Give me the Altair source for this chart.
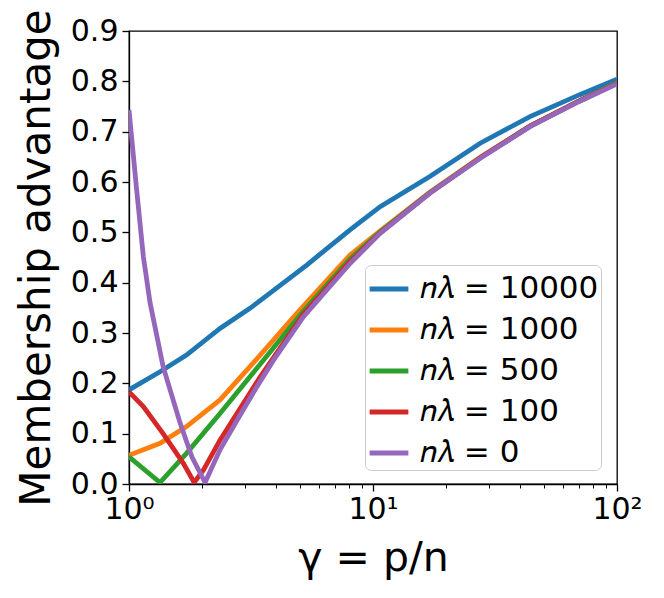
import altair as alt
import pandas as pd

series_labels = ["𝑛𝜆 = 10000", "𝑛𝜆 = 1000", "𝑛𝜆 = 500", "𝑛𝜆 = 100", "𝑛𝜆 = 0"]
series_colors = ["#1f77b4", "#ff7f0e", "#2ca02c", "#d62728", "#9467bd"]

gamma_10000 = [1.0, 1.34, 1.72, 2.36, 3.13, 4.0, 5.35, 8.05, 10.7, 17.1, 27.5, 44.0, 70.0, 100.0]
adv_10000 = [0.187, 0.223, 0.256, 0.309, 0.349, 0.388, 0.435, 0.505, 0.551, 0.611, 0.677, 0.730, 0.773, 0.804]

gamma_1000 = [1.0, 1.34, 1.72, 2.36, 3.13, 5.02, 8.05, 10.7, 17.1, 27.5, 44.0, 70.0, 100.0]
adv_1000 = [0.057, 0.081, 0.114, 0.167, 0.233, 0.346, 0.455, 0.503, 0.580, 0.649, 0.711, 0.761, 0.797]

gamma_500 = [1.0, 1.34, 1.72, 2.36, 3.13, 5.18, 8.05, 10.7, 17.1, 27.5, 44.0, 70.0, 100.0]
adv_500 = [0.054, 0.003, 0.061, 0.140, 0.213, 0.343, 0.447, 0.501, 0.579, 0.648, 0.711, 0.761, 0.797]

gamma_100 = [1.0, 1.145, 1.38, 1.67, 1.85, 2.02, 2.36, 3.44, 5.18, 8.05, 10.7, 17.1, 27.5, 44.0, 70.0, 100.0]
adv_100 = [0.183, 0.154, 0.100, 0.041, 0.003, 0.028, 0.087, 0.212, 0.337, 0.442, 0.499, 0.578, 0.648, 0.711, 0.761, 0.796]

gamma_0 = [1.0, 1.075, 1.145, 1.22, 1.38, 1.62, 1.81, 2.05, 2.36, 2.8, 3.34, 3.9, 5.18, 8.05, 10.7, 17.1, 27.5, 44.0, 70.0, 100.0]
adv_0 = [0.743, 0.584, 0.452, 0.360, 0.233, 0.121, 0.054, 0.003, 0.068, 0.130, 0.193, 0.245, 0.332, 0.438, 0.498, 0.578, 0.647, 0.710, 0.760, 0.795]

y_ticks = [0.0, 0.1, 0.2, 0.3, 0.4, 0.5, 0.6, 0.7, 0.8, 0.9]
x_ticks = [1, 2, 3, 4, 5, 6, 7, 8, 9, 10, 20, 30, 40, 50, 60, 70, 80, 90, 100]

rows = []
for idx, (lab, gs, vs) in enumerate(zip(series_labels,
                                        [gamma_10000, gamma_1000, gamma_500, gamma_100, gamma_0],
                                        [adv_10000, adv_1000, adv_500, adv_100, adv_0])):
    for g, v in zip(gs, vs):
        rows.append({"series": lab, "gamma": g, "adv": v, "k": idx})
df = pd.DataFrame(rows)

major_test = "datum.value == 1 || datum.value == 10 || datum.value == 100"

x_axis = alt.Axis(
    values=x_ticks,
    labelExpr="datum.value == 1 ? '10⁰' : datum.value == 10 ? '10¹' : datum.value == 100 ? '10²' : ''",
    labelFlush=False,
    labelOverlap=False,
    labelFontSize=30,
    labelPadding=3,
    tickSize={"condition": {"test": major_test, "value": 7}, "value": 4},
    tickWidth={"condition": {"test": major_test, "value": 1.3}, "value": 1.0},
    title="γ = p/n",
    titleFontSize=41,
    titlePadding=14,
    grid=False,
)

y_axis = alt.Axis(
    values=y_ticks,
    format=".1f",
    labelFontSize=30,
    labelPadding=4,
    tickSize=7,
    tickWidth=1.3,
    title="Membership advantage",
    titleFontSize=42,
    titlePadding=12,
    grid=False,
)

chart = alt.Chart(df).mark_line(strokeWidth=4.8, clip=True).encode(
    x=alt.X("gamma:Q", scale=alt.Scale(type="log", domain=[1, 100], nice=False), axis=x_axis),
    y=alt.Y("adv:Q", scale=alt.Scale(domain=[0, 0.9], nice=False), axis=y_axis),
    color=alt.Color(
        "series:N",
        scale=alt.Scale(domain=series_labels, range=series_colors),
        legend=alt.Legend(
            title=None,
            orient="none",
            legendX=236,
            legendY=234,
            symbolType="stroke",
            symbolSize=1500,
            symbolStrokeWidth=4.8,
            labelFontSize=31,
            labelFont="DejaVu Sans",
            labelColor="black",
            labelOffset=9,
            labelLimit=400,
            padding=2,
            rowPadding=4,
            strokeColor="#cccccc",
            fillColor="white",
            cornerRadius=6,
        ),
    ),
    order=alt.Order("gamma:Q"),
).properties(
    width=488,
    height=453,
    background="white",
    autosize=alt.AutoSizeParams(type="none"),
    padding={"left": 121, "top": 23, "right": 39, "bottom": 106},
).configure_axis(
    labelFont="DejaVu Sans",
    titleFont="DejaVu Sans",
    labelColor="black",
    titleColor="black",
    tickColor="black",
    domainColor="black",
    domainWidth=1.3,
    titleFontWeight="normal",
).configure_view(
    stroke="black",
    strokeWidth=1.3,
)

chart.save("out.html", embed_options={"renderer": "svg", "actions": False})
